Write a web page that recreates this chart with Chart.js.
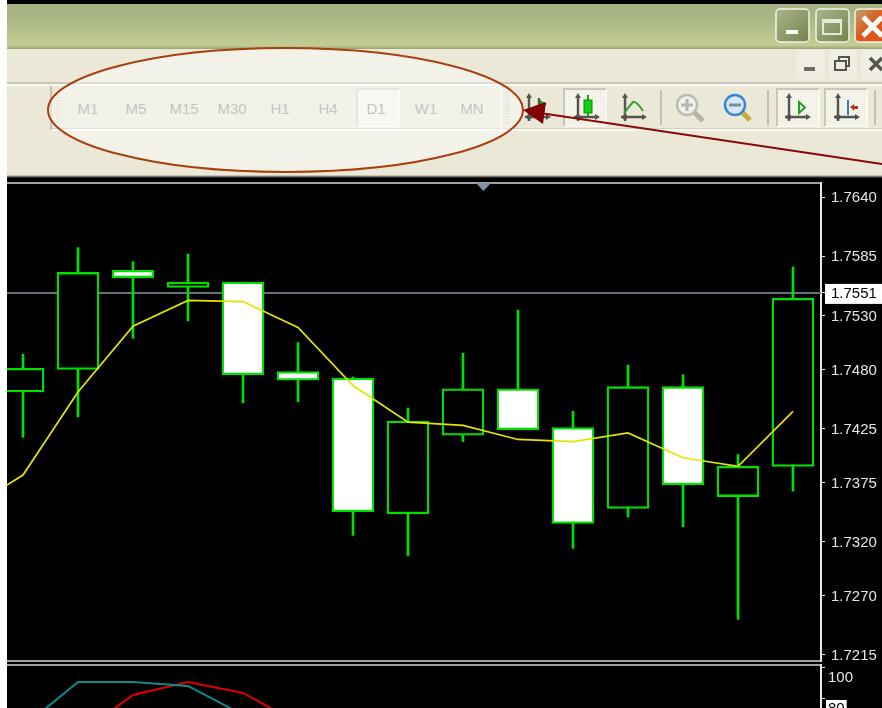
<!DOCTYPE html>
<html>
<head>
<meta charset="utf-8">
<title>MT4 timeframes</title>
<script src="https://cdn.jsdelivr.net/npm/chart.js@4"></script>
<style>
html, body { margin:0; padding:0; width:882px; height:708px; overflow:hidden; background:#fff; }
.box { position:absolute; }
#shell { left:7px; top:0; width:875px; height:708px; background:#000; overflow:hidden; }
#titlebar { left:7px; top:4px; width:875px; height:45px; background:linear-gradient(#a6b481,#a9b685 30%,#c3cd93 92%,#97a274); }
#menubar { left:7px; top:49px; width:875px; height:128px; background:#ebe8d8; }
#menubar2 { left:7px; top:175px; width:875px; height:3px; background:linear-gradient(#ebe8d8,#77766c,#000); }
#band { left:50px; top:84px; width:832px; height:47px; border-bottom:2px solid #f8f7f0; box-sizing:border-box; }
#line83 { left:7px; top:82px; width:875px; height:2px; background:#c9c7b8; }
#line85 { left:7px; top:84px; width:875px; height:2px; background:#f8f7f0; }
#line129 { left:50px; top:128px; width:832px; height:1px; background:#d2d0c2; }
.tf { position:absolute; top:100px; font:15px "Liberation Sans",sans-serif; color:#9a9a96; transform:translateX(-50%); line-height:18px; }
svg { position:absolute; left:0; top:0; }
#main { position:absolute; left:7px; top:182px; }
#sub { position:absolute; left:7px; top:664px; }
</style>
</head>
<body>
<div class="box" id="shell"></div>
<div class="box" id="titlebar"></div>
<div class="box" id="menubar"></div>
<div class="box" id="menubar2"></div>
<div class="box" id="line83"></div>
<div class="box" id="band"></div>
<div class="box" id="line85"></div>
<div class="box" id="line129"></div>

<svg width="882" height="183" id="tools">
  <defs>
    <pattern id="dots" width="2" height="2" patternUnits="userSpaceOnUse"><rect width="2" height="2" fill="#f6f5ee"/><rect width="1" height="1" fill="#ebe9dc"/></pattern>
    <linearGradient id="winBtn" x1="0" y1="0" x2="1" y2="1"><stop offset="0" stop-color="#aab58c"/><stop offset="1" stop-color="#75834e"/></linearGradient>
    <linearGradient id="winClose" x1="0" y1="0" x2="1" y2="1"><stop offset="0" stop-color="#b9a66c"/><stop offset="0.5" stop-color="#e0561c"/><stop offset="1" stop-color="#e0561c"/></linearGradient>
    <g id="axes" stroke="#55554f" stroke-width="2.4" fill="#55554f">
      <path d="M6 7V31M2 27H24" fill="none"/>
      <path d="M6 3l-3 5h6zM28 27l-5-3v6z" stroke="none"/>
      <circle cx="6" cy="27" r="2.500" stroke="none"/>
    </g>
  </defs>
  <!-- window buttons -->
  <rect x="776" y="9" width="33" height="33" rx="4" fill="url(#winBtn)" stroke="#f2f3ea" stroke-width="1.5"/>
  <rect x="786" y="30" width="12" height="4" fill="#fff"/>
  <rect x="816" y="9" width="33" height="33" rx="4" fill="url(#winBtn)" stroke="#f2f3ea" stroke-width="1.5"/>
  <rect x="823" y="20" width="18" height="14" fill="none" stroke="#e6e8d8" stroke-width="2"/><rect x="823" y="19" width="18" height="4" fill="#e6e8d8"/>
  <rect x="855" y="9" width="33" height="33" rx="4" fill="url(#winClose)" stroke="#f2f3ea" stroke-width="1.5"/>
  <path d="M863 17L882 36M882 17L863 36" stroke="#fff" stroke-width="5"/>
  <!-- mdi buttons -->
  <rect x="796" y="50" width="29" height="29" rx="2" fill="#f0eee3"/>
  <rect x="829" y="50" width="28" height="29" rx="2" fill="#f0eee3"/>
  <rect x="861" y="50" width="28" height="29" rx="2" fill="#f0eee3"/>
  <rect x="804" y="67" width="11" height="4" fill="#6e6e66"/>
  <rect x="835" y="61" width="11" height="9" fill="none" stroke="#55554f" stroke-width="2"/><path d="M839 61v-4h10v9h-3" fill="none" stroke="#55554f" stroke-width="2"/>
  <path d="M870 58L882 70M882 58L870 70" stroke="#55554f" stroke-width="3.500"/>
  <!-- grips -->
  <path d="M58 94V124" stroke="#d9d7c9" stroke-width="5" stroke-dasharray="1.500 1.500"/>
  <path d="M507 92V124" stroke="#d3d1c2" stroke-width="5" stroke-dasharray="1.500 1.500"/>
  <path d="M51 86V130" stroke="#b9b7a8" stroke-width="1.500"/>
  <path d="M501 86V130" stroke="#f8f7f0" stroke-width="1.500"/>
  <!-- pressed buttons -->
  <g id="pressed">
    <rect x="357" y="89" width="42" height="37" fill="url(#dots)" stroke="#f8f7f0" stroke-width="2"/><path d="M357 126V89H399" fill="none" stroke="#d8d6c8" stroke-width="2"/>
    <rect x="564" y="89" width="42" height="37" fill="url(#dots)" stroke="#f8f7f0" stroke-width="2"/><path d="M564 126V89H606" fill="none" stroke="#c9c7b8" stroke-width="2"/>
    <rect x="777" y="89" width="42" height="37" fill="url(#dots)" stroke="#f8f7f0" stroke-width="2"/><path d="M777 126V89H819" fill="none" stroke="#c9c7b8" stroke-width="2"/>
    <rect x="825" y="89" width="42" height="37" fill="url(#dots)" stroke="#f8f7f0" stroke-width="2"/><path d="M825 126V89H867" fill="none" stroke="#c9c7b8" stroke-width="2"/>
  </g>
  <!-- separators -->
  <path d="M661 90V125M768 90V125M875 90V125" stroke="#c2c0b2" stroke-width="2"/>
  <!-- bar chart button -->
  <use href="#axes" x="523" y="90"/>
  <path d="M539 98v22M539 110h6" stroke="#55554f" stroke-width="2.400"/>
  <path d="M540 100l7 4-7 5z" fill="#1f9f1f"/>
  <!-- candle button -->
  <use href="#axes" x="572" y="90"/>
  <path d="M588 95V116" stroke="#0fae0f" stroke-width="2"/><rect x="584" y="100" width="8" height="13" fill="#11d011" stroke="#0a8a0a"/>
  <!-- line button -->
  <use href="#axes" x="619" y="90"/>
  <path d="M624 113L633 102Q637 101 643 111" fill="none" stroke="#3a9f3a" stroke-width="2"/>
  <!-- zoom in -->
  <path d="M694 112L703 121" stroke="#b4b4aa" stroke-width="5"/>
  <circle cx="687" cy="105" r="10" fill="#f1f1ec" stroke="#bcbcb4" stroke-width="2.500"/>
  <path d="M681 105h12M687 99v12" stroke="#b8b8b0" stroke-width="3"/>
  <!-- zoom out -->
  <path d="M742 112L750 120" stroke="#c9a93a" stroke-width="5"/>
  <circle cx="735" cy="105" r="10" fill="#d9e6f5" stroke="#3a86dc" stroke-width="2.500"/>
  <path d="M729 105h12" stroke="#6f8faf" stroke-width="3"/>
  <!-- shift buttons -->
  <use href="#axes" x="783" y="90"/>
  <path d="M799 102l6 5.500-6 5.500z" fill="#eef6e4" stroke="#1f9f1f" stroke-width="2"/>
  <use href="#axes" x="832" y="90"/>
  <path d="M848 100V115" stroke="#2f7fbf" stroke-width="2"/><path d="M850 107l4-3v2h4v3h-4v2z" fill="#b23a1e"/>
</svg>

<div id="tfRow"></div>

<canvas id="main" width="875" height="480" style="width:875px;height:480px"></canvas>
<canvas id="sub" width="875" height="56" style="width:875px;height:56px"></canvas>

<svg width="882" height="200" id="notes">
  <path d="M476 183h15l-7.500 8z" fill="#7d92a4"/>
  <ellipse cx="285.500" cy="110" rx="237.500" ry="62" fill="rgba(255,255,255,0.42)" stroke="#a6400f" stroke-width="2"/>
  <path d="M882 164L540 113" stroke="#850a0a" stroke-width="2"/>
  <path d="M523 110L546 102L543 124Z" fill="#850000"/>
</svg>

<script>
// timeframes on the toolbar
const timeframes = ['M1', 'M5', 'M15', 'M30', 'H1', 'H4', 'D1', 'W1', 'MN'];
const timeframeX = [88, 136, 184, 232, 280, 328, 376, 426, 472];

// daily candles, index -1 is the bar just off the left edge
const candleIndex = [0, 1, 2, 3, 4, 5, 6, 7, 8, 9, 10, 11, 12, 13, 14];
const opens  = [1.7459, 1.7480, 1.7572, 1.7556, 1.7561, 1.7478, 1.7472, 1.7346, 1.7419, 1.7462, 1.7426, 1.7351, 1.7464, 1.7362, 1.7390];
const closes = [1.7481, 1.7570, 1.7565, 1.7561, 1.7475, 1.7470, 1.7348, 1.7432, 1.7462, 1.7424, 1.7337, 1.7464, 1.7373, 1.7390, 1.7546];
const highs  = [1.7494, 1.7593, 1.7580, 1.7587, 1.7561, 1.7505, 1.7473, 1.7444, 1.7495, 1.7535, 1.7441, 1.7484, 1.7475, 1.7401, 1.7575];
const lows   = [1.7417, 1.7436, 1.7509, 1.7525, 1.7449, 1.7450, 1.7326, 1.7307, 1.7413, 1.7424, 1.7314, 1.7343, 1.7334, 1.7248, 1.7367];

// moving average
const maIndex = [-1, 0, 1, 2, 3, 4, 5, 6, 7, 8, 9, 10, 11, 12, 13, 14];
const maValues = [1.7350, 1.7382, 1.7459, 1.7520, 1.7544, 1.7543, 1.7519, 1.7465, 1.7431, 1.7428, 1.7415, 1.7413, 1.7421, 1.7398, 1.7390, 1.7441];

// stochastic in the lower window
const stochIndex = [0, 1, 2, 3, 4, 5];
const stochMain = [61.9, 91.0, 91.0, 88.4, 69.7, 53.5];
const stochSignalIndex = [1, 2, 3, 4, 5];
const stochSignal = [56.8, 82.6, 91.0, 83.9, 64.5];

// axes
const currentPrice = 1.7551;
const priceTicks = [1.7640, 1.7585, 1.7551, 1.7530, 1.7480, 1.7425, 1.7375, 1.7320, 1.7270, 1.7215];
const stochTicks = [100, 80];

const GREEN = '#00e000';

document.getElementById('tfRow').innerHTML = timeframes.map((t, i) =>
    `<span class="tf" style="left:${timeframeX[i]}px">${t}</span>`).join('');

// lines of the window frame
const frameLines = {
    id: 'frameLines',
    afterDatasetsDraw(chart, args, opts) {
        const { ctx, chartArea } = chart;
        ctx.save();
        ctx.strokeStyle = '#d6d6d6';
        ctx.lineWidth = 1.5;
        ctx.beginPath();
        ctx.moveTo(0, chartArea.top);
        ctx.lineTo(chartArea.right, chartArea.top);
        if (opts.bottom) {
            ctx.moveTo(0, chartArea.bottom);
            ctx.lineTo(chartArea.right, chartArea.bottom);
        }
        ctx.stroke();
        ctx.restore();
    }
};

function rightAxis(ticks, min, max, padding, labelOffset, isBoxed, backdropPadding) {
    return {
        position: 'right',
        min: min,
        max: max,
        afterBuildTicks(scale) { scale.ticks = ticks.map(v => ({ value: v })); },
        afterFit(scale) { scale.width = 61; scale.paddingTop = 0; scale.paddingBottom = 0; },
        border: { display: true, color: '#e8e8e8', width: 2 },
        grid: { drawOnChartArea: false, drawTicks: true, tickLength: 4, tickColor: '#e8e8e8', tickWidth: 1 },
        ticks: {
            autoSkip: false,
            padding: padding,
            labelOffset: labelOffset,
            font: { family: '"Liberation Sans"', size: 15 },
            color: ctx => isBoxed(ctx.tick.value) ? '#000' : '#e4e4e4',
            showLabelBackdrop: ctx => isBoxed(ctx.tick.value),
            backdropColor: '#fff',
            backdropPadding: backdropPadding,
            callback: v => (v > 2 ? String(v) : v.toFixed(4))
        }
    };
}

const sharedOptions = {
    responsive: false,
    animation: false,
    events: [],
    plugins: { legend: { display: false }, tooltip: { enabled: false }, title: { display: false } }
};

// x runs in bar numbers: 55px per bar, bar 0 sits 16px into the plot
const xMin = -16 / 55, xMax = 798 / 55;
const xAxis = { type: 'linear', display: false, min: xMin, max: xMax, offset: false, grid: { display: false } };

new Chart(document.getElementById('main'), {
    type: 'bar',
    data: {
        datasets: [
            {
                type: 'line',
                data: [{ x: xMin, y: currentPrice }, { x: xMax, y: currentPrice }],
                borderColor: '#67717c',
                borderWidth: 2,
                pointRadius: 0,
                order: 4
            },
            {
                data: candleIndex.map((x, i) => ({ x: x, y: [lows[i], highs[i]] })),
                backgroundColor: GREEN,
                borderWidth: 0,
                barThickness: 2,
                grouped: false,
                order: 3
            },
            {
                data: candleIndex.map((x, i) => ({ x: x, y: [opens[i], closes[i]] })),
                backgroundColor: candleIndex.map((x, i) => closes[i] < opens[i] ? '#fff' : '#000'),
                borderColor: GREEN,
                borderWidth: 2.3,
                borderSkipped: false,
                barThickness: 42,
                grouped: false,
                order: 2
            },
            {
                type: 'line',
                data: maIndex.map((x, i) => ({ x: x, y: maValues[i] })),
                borderColor: '#e4e400',
                borderWidth: 1.7,
                pointRadius: 0,
                tension: 0,
                order: 1
            }
        ]
    },
    options: {
        ...sharedOptions,
        layout: { padding: { top: 1, bottom: 1, left: 0, right: 0 } },
        plugins: { ...sharedOptions.plugins, frameLines: { bottom: true } },
        scales: {
            x: xAxis,
            y: rightAxis(priceTicks, 1.72094, 1.76530, 6, 1, v => v === currentPrice, { top: 1, bottom: 1, left: 6, right: 6 })
        }
    },
    plugins: [frameLines]
});

new Chart(document.getElementById('sub'), {
    type: 'line',
    data: {
        datasets: [
            {
                data: stochIndex.map((x, i) => ({ x: x, y: stochMain[i] })),
                borderColor: '#0a8c8c',
                borderWidth: 2,
                pointRadius: 0,
                tension: 0
            },
            {
                data: stochSignalIndex.map((x, i) => ({ x: x, y: stochSignal[i] })),
                borderColor: '#dc0000',
                borderWidth: 2,
                pointRadius: 0,
                tension: 0
            }
        ]
    },
    options: {
        ...sharedOptions,
        layout: { padding: { top: 1, bottom: 0, left: 0, right: 0 } },
        plugins: { ...sharedOptions.plugins, frameLines: { bottom: false } },
        scales: {
            x: xAxis,
            y: rightAxis(stochTicks, 66.45, 101.9, 3, 10, v => v === 80, { top: 0, bottom: 0, left: 2, right: 2 })
        }
    },
    plugins: [frameLines]
});
</script>
</body>
</html>
